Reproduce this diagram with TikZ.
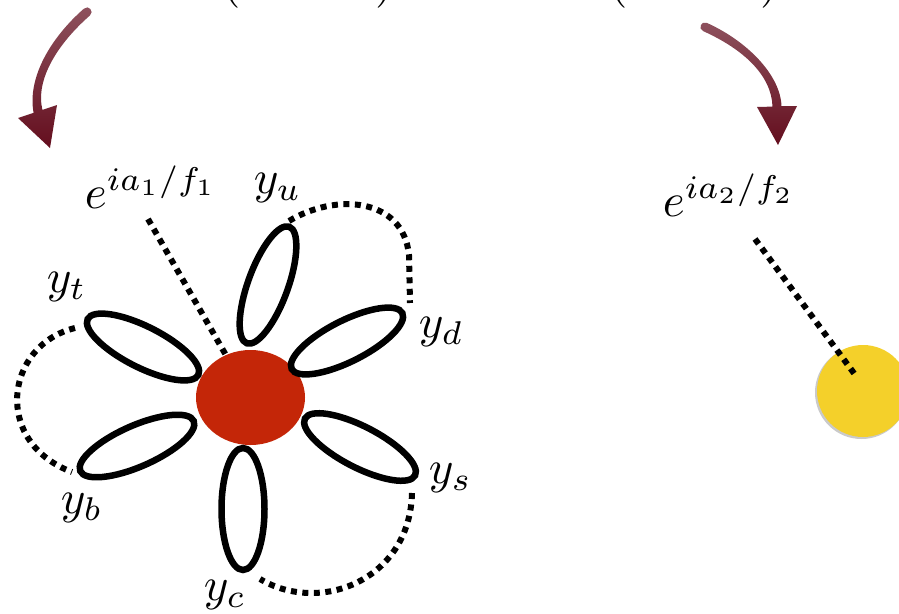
\documentclass[tikz,border=0pt]{standalone}
\definecolor{flowerred}{RGB}{196,38,8}
\definecolor{sunyellow}{RGB}{244,208,42}
\definecolor{arrowtop}{RGB}{142,82,94}
\definecolor{arrowbot}{RGB}{100,14,30}
\tikzset{
  petal/.style={draw=black, fill=white, line width=6.5pt},
  dotline/.style={line width=6pt, dash pattern=on 6pt off 5.5pt},
  lbl/.style={inner sep=0pt, scale=4.7, transform shape, anchor=base west},
  arrowshade/.style={top color=arrowtop, bottom color=arrowbot},
}
\begin{document}
\begin{tikzpicture}[x=1pt,y=-1pt]
\useasboundingbox (0,0) rectangle (899,613);

% text fragments cut by the top edge
\node[lbl, anchor=base] (pl1) at (232,-4) {(};
\node[lbl, anchor=base] (pr1) at (385,-4) {)};
\node[lbl, anchor=base] (pl2) at (619,-4) {(};
\node[lbl, anchor=base] (pr2) at (770,-4) {)};

% curved arrows
\shade[arrowshade]
  (84,8.6) .. controls (51.5,37) and (27,77) .. (33.6,112.8)
  -- (18,118) -- (50,148) -- (57,105) -- (42.4,109.9)
  .. controls (35,79) and (58.5,43) .. (90,15.4)
  .. controls (94.5,11.4) and (88.5,4.6) .. (84,8.6) -- cycle;
\shade[arrowshade]
  (706.85,22.9) .. controls (746.85,40.9) and (780.5,74.9) .. (781.5,106.2)
  -- (797,106) -- (778,145) -- (757,107) -- (772.5,106.6)
  .. controls (771.5,75.1) and (743.15,49.1) .. (703.15,31.1)
  .. controls (697.65,28.6) and (701.35,20.4) .. (706.85,22.9) -- cycle;

% centre discs
\coordinate (redc) at (250.5,397.5);
\fill[flowerred] (redc) ellipse [x radius=54.5pt, y radius=47.5pt];
\coordinate (yelc) at (863,391);
\fill[black!60, opacity=0.35] (861.5,392.5) circle [radius=46.5pt];
\fill[sunyellow] (yelc) circle [radius=46pt];

% petals
\draw[petal, rotate around={70:(268,285)}] (268,285) ellipse [x radius=62pt, y radius=20pt];
\draw[petal, rotate around={26.8:(347,341)}] (347,341) ellipse [x radius=62pt, y radius=20.5pt];
\draw[petal, rotate around={-26.8:(143,347)}] (143,347) ellipse [x radius=62pt, y radius=20.5pt];
\draw[petal, rotate around={23.8:(137,446)}] (137,446) ellipse [x radius=62pt, y radius=20.5pt];
\draw[petal, rotate around={-27.3:(360,447)}] (360,447) ellipse [x radius=62pt, y radius=20.5pt];
\draw[petal, rotate around={90:(243,509)}] (243,509) ellipse [x radius=61pt, y radius=21.5pt];

% labels
\node[lbl] (e1) at (84,208) {$e^{ia_1/f_1}$};
\node[lbl] (yu) at (253,193) {$y_u$};
\node[lbl] (yt) at (46,292) {$y_t$};
\node[lbl] (yd) at (418,337) {$y_d$};
\node[lbl] (yb) at (60,513) {$y_b$};
\node[lbl] (ys) at (428,483) {$y_s$};
\node[lbl] (yc) at (203,600) {$y_c$};
\node[lbl] (e2) at (662,216) {$e^{ia_2/f_2}$};

% dotted connectors
\coordinate (e1s) at (148,219);
\coordinate (e1e) at (227,357);
\draw[dotline] (e1s) -- (e1e);
\coordinate (us) at (289,221);
\coordinate (ue) at (410,303);
\draw[dotline] (us) .. controls (335,193) and (403,197) .. (409,255) -- (ue);
\coordinate (ts) at (75,328);
\coordinate (te) at (72,472);
\draw[dotline] (ts) .. controls (5,345) and (-8,442) .. (te);
\coordinate (ss) at (412,493);
\coordinate (se) at (260,579);
\draw[dotline] (ss) .. controls (410,580) and (320,615) .. (se);
\coordinate (e2s) at (755,239);
\coordinate (e2e) at (856,376);
\draw[dotline] (e2s) -- (e2e);
\end{tikzpicture}
\end{document}
